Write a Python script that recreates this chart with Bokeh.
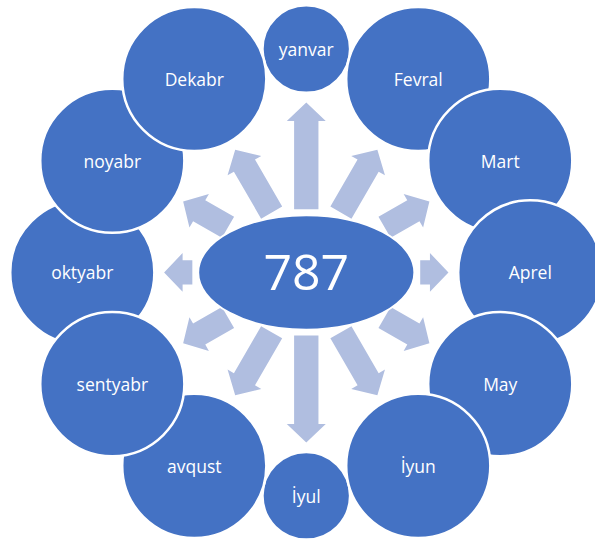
import math
from bokeh.plotting import figure
from bokeh.models import ColumnDataSource, Range1d
from bokeh.core.properties import value
from bokeh.embed import file_html
from bokeh.resources import INLINE

# ---- data ----
months = ["yanvar", "Fevral", "Mart", "Aprel", "May", "İyun",
          "İyul", "avqust", "sentyabr", "oktyabr", "noyabr", "Dekabr"]
bubble_size = [45, 74, 74, 74, 74, 74, 45, 74, 74, 74, 74, 74]
total_value = "787"
draw_order = [0, 6, 9, 7, 8, 10, 11, 1, 2, 3, 4, 5]

# ---- layout / style ----
BLUE = "#4472C4"
ARROW = "#B0BEE0"
CX, CY = 314, 280
RING = 230
EA, EB = 111, 59  # ellipse semi-axes

p = figure(width=595, height=539, output_backend="svg", toolbar_location=None,
           x_range=Range1d(0, 611), y_range=Range1d(555, 0),
           min_border=0, x_axis_location=None, y_axis_location=None,
           outline_line_color=None, background_fill_color="white",
           border_fill_color="white")
p.grid.visible = False

n = len(months)
xs_c, ys_c = [], []
arrow_xs, arrow_ys = [], []
for i in range(n):
    t = math.radians(i * 360.0 / n)
    ux, uy = math.sin(t), -math.cos(t)
    nx, ny = math.cos(t), math.sin(t)
    xs_c.append(CX + RING * ux)
    ys_c.append(CY + RING * uy)
    er = 1.0 / math.sqrt((ux / EA) ** 2 + (uy / EB) ** 2)
    r0 = er + 6
    r1 = RING - bubble_size[i] - 10
    h, sw, hw = 19, 12.5, 20
    pts = [(r0, sw), (r1 - h, sw), (r1 - h, hw), (r1, 0),
           (r1 - h, -hw), (r1 - h, -sw), (r0, -sw)]
    arrow_xs.append([CX + a * ux + b * nx for a, b in pts])
    arrow_ys.append([CY + a * uy + b * ny for a, b in pts])

p.patches(xs=arrow_xs, ys=arrow_ys, fill_color=ARROW, line_color=None)

p.ellipse(x=[CX], y=[CY], width=[2 * EA], height=[2 * EB],
          fill_color=BLUE, line_color="white", line_width=2)
p.text(x=[CX], y=[CY], text=[total_value], text_align="center",
       text_baseline="middle", text_font=value("Open Sans"),
       text_font_size="50px", text_color="white")

src = ColumnDataSource(dict(
    x=[xs_c[k] for k in draw_order],
    y=[ys_c[k] for k in draw_order],
    r=[bubble_size[k] for k in draw_order],
    label=[months[k] for k in draw_order],
))
p.circle(x="x", y="y", radius="r", source=src, fill_color=BLUE,
         line_color="white", line_width=2.5)
p.text(x="x", y="y", text="label", source=src, text_align="center",
       text_baseline="middle", text_font=value("Open Sans"),
       text_font_size="17.5px", text_color="white")

open("out.html", "w").write(file_html(p, INLINE))
